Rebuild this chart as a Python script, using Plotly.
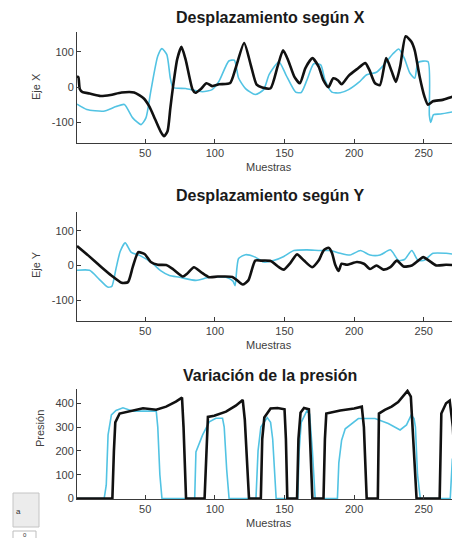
import plotly.graph_objects as go

# ---------------- data ----------------
titles = ["Desplazamiento según X", "Desplazamiento según Y", "Variación de la presión"]
ylabels = ["Eje X", "Eje Y", "Presión"]
xlabel = "Muestras"

x_ticks = [50, 100, 150, 200, 250]
xy_ticks = [-100, 0, 100]
xy_ticktext = ["-100", "0", "100"]
p_ticks = [0, 100, 200, 300, 400]
p_ticktext = ["0", "100", "200", "300", "400"]

# Panel 1: displacement along X
dx_black_s = [1, 2, 3, 5, 10, 18, 25, 33, 42, 49, 53, 57, 61, 63.5, 66, 68, 70, 73, 76, 79, 84, 86,
              90, 94, 98, 103, 111, 115, 121, 125.7, 130, 134, 140, 145, 149, 153, 157, 161, 165,
              170, 174.5, 178, 181.5, 185, 188.5, 191, 196, 202, 208, 211, 215, 218.5, 223, 227,
              230, 233, 237, 241, 243.5, 247, 250.5, 253, 256.5, 263.5, 270.5, 276]
dx_black_v = [30, 28, -5, -14, -18, -25, -22, -15, -15, -32, -55, -90, -125, -139, -125, -60, 3, 80,
              114, 78, -7, -16, -5, 11, 3, 8, 12, 55, 125, 64, 7, -1, -3, 58, 104, 72, 30, 11, 54,
              82, 58, 19, 0, 25, 19, 8, 32, 51, 68, 48, 11, 6, 82, 44, 15, 58, 144, 129, 104, 30,
              -27, -50, -40, -36, -27, -22]
dx_cyan_s = [1, 8, 20, 29, 35, 41, 47, 50.5, 54, 59, 62, 65.5, 68, 70, 79, 91, 98, 103, 110, 114,
             117, 122, 129, 135, 139, 146, 151, 158, 162, 166, 171, 176, 179, 184, 190, 196, 203.5,
             209, 216, 222, 228, 232, 236, 240, 243.5, 246, 253, 254, 255, 257, 262, 276]
dx_cyan_v = [-48, -63, -68, -55, -49, -87, -106, -87, -11, 88, 109, 92, 26, -1, -4, -13, -7, 17, 74,
             76, 26, -4, -21, -7, 36, 72, 35, -14, -15, 19, 66, 63, 21, -14, -16, -7, 14, 35, 42,
             66, 95, 108, 82, 40, 25, 70, 72, -80, -100, -78, -76, -66]

# Panel 2: displacement along Y
dy_black_s = [1, 9, 18.6, 25.7, 33, 37.6, 41, 45, 49.5, 54, 59, 65, 69.7, 77, 80, 85, 90, 96, 102,
              112.6, 116, 120, 124, 129, 133, 140, 146, 149.5, 154, 159, 164, 169.8, 174.5, 178,
              181.6, 184, 186.4, 188.8, 191, 194.8, 202, 207, 211.4, 216, 221, 226, 230.7, 235.5,
              241.4, 246, 249.6, 254, 259, 266, 276]
dy_black_v = [56, 29, -5, -29, -50, -48, -5, 38, 33, 10, 2, 1, -10, -32, -24, -5, -19, -34, -32,
              -33, -43, -55, -43, 14, 14, 13, -5, -12, 6, 32, 14, -5, 14, 43, 51, 37, 2, -16, 5, 2,
              10, 5, -10, 0, -12, -5, 14, -3, 0, 14, 24, 13, 0, 2, 0]
dy_cyan_s = [1, 10, 17, 23, 26, 29, 32, 35.6, 40, 46, 55.5, 61, 67.4, 74.5, 86.4, 96, 108, 113,
             114.5, 117, 122, 129, 135, 142, 149.5, 156.7, 166, 175.7, 183, 190, 197, 204.5, 211.4,
             218.6, 226, 232, 236.4, 241.4, 246, 250.7, 256.7, 266, 276]
dy_cyan_v = [-14, -14, -40, -62, -60, -9, 40, 65, 38, 29, 5, -15, -29, -34, -43, -34, -34, -45, -58,
             20, 31, 24, 10, 14, 26, 43, 45, 43, 43, 35, 30, 43, 30, 30, 45, 14, 18, 43, 14, 16,
             35, 35, 30]

# Panel 3: pressure
p_black_s = [1, 26.4, 27.5, 28.5, 31.6, 38.8, 48.4, 57.9, 65, 72, 76.4, 77.5, 79.3, 92.6, 93.8, 95,
             99.5, 108, 115, 120, 121.5, 124.5, 133, 134, 135.5, 140, 145, 150, 151, 152, 159, 160,
             161.5, 164, 167.5, 168.5, 170, 178, 179, 180, 190, 200, 205.5, 207, 209, 217, 217.8,
             222, 226.9, 231.6, 236.4, 238.3, 240.7, 242.5, 244.8, 261.4, 262, 262.6, 266, 268.6,
             270.9, 273.4, 276]
p_black_v = [0, 0, 200, 320, 357, 367, 379, 373, 386, 407, 424, 300, 0, 0, 200, 343, 348, 365, 390,
             414, 330, 0, 0, 250, 340, 378, 380, 375, 250, 0, 0, 250, 360, 380, 375, 250, 0, 0, 250,
             357, 370, 378, 386, 300, 0, 0, 357, 372, 386, 405, 442, 452, 428, 250, 0, 0, 250, 357,
             400, 411, 300, 0, 0]
p_cyan_s = [1, 20.5, 22, 23.3, 25.7, 29, 34, 41.2, 50, 57.9, 59, 60.5, 62, 85.5, 86.4, 91.2, 96,
            100.7, 105.5, 106.7, 108.5, 110.2, 129.5, 131, 133, 137.6, 140, 141.5, 144, 159.5,
            160.5, 162, 166.2, 168, 170, 172, 188, 189, 191, 193.6, 203, 215, 224.5, 233, 237.6,
            241, 243, 244, 245.5, 247.5, 269, 270.5, 271.5, 273, 276]
p_cyan_v = [0, 0, 56, 267, 351, 370, 381, 367, 367, 367, 300, 100, 0, 0, 196, 267, 322, 337, 337,
            300, 120, 0, 0, 200, 300, 340, 320, 250, 0, 0, 200, 320, 370, 355, 200, 0, 0, 150, 245,
            293, 336, 336, 315, 288, 309, 351, 336, 300, 100, 0, 0, 165, 165, 0, 0]

# ---------------- styling ----------------
OFF = 8                      # default body margin of the written html page
W, H = 452, 530              # keeps the page from overflowing (no scrollbar)
FONT = "Liberation Sans, Arial, Helvetica, sans-serif"
BLACK = "#111111"
CYAN = "#52c3e3"
AXIS = "#3a3a3a"
TXT = "#404040"


def px(x):
    return (x - OFF) / W


def py(y):
    return 1 - (y - OFF) / H


# plot-area boxes in page pixels (top, bottom)
x_left = 77
boxes = [(32, 143), (212, 321), (389, 499)]
yranges = [[-158, 156], [-160, 154], [-2, 460]]
title_y = [18, 196, 375]
xlab_y = [167, 345, 523]
ylab_x = [36, 36, 40]
ylab_y = [87, 265, 429]

fig = go.Figure()

series = [
    (dx_cyan_s, dx_cyan_v, dx_black_s, dx_black_v, "spline"),
    (dy_cyan_s, dy_cyan_v, dy_black_s, dy_black_v, "spline"),
    (p_cyan_s, p_cyan_v, p_black_s, p_black_v, "linear"),
]

for i, (cs, cv, bs, bv, shape) in enumerate(series):
    xa = "x" if i == 0 else f"x{i+1}"
    ya = "y" if i == 0 else f"y{i+1}"
    fig.add_trace(go.Scatter(x=cs, y=cv, mode="lines", xaxis=xa, yaxis=ya,
                             line=dict(color=CYAN, width=1.6, shape=shape, smoothing=0.6),
                             showlegend=False, hoverinfo="skip"))
    fig.add_trace(go.Scatter(x=bs, y=bv, mode="lines", xaxis=xa, yaxis=ya,
                             line=dict(color=BLACK, width=2.6, shape=shape, smoothing=0.6),
                             showlegend=False, hoverinfo="skip"))

layout = dict(
    width=W, height=H, margin=dict(l=0, r=0, t=0, b=0, autoexpand=False),
    paper_bgcolor="white", plot_bgcolor="white",
    font=dict(family=FONT, color=TXT, size=11),
    showlegend=False,
)

annotations = []
for i, (top, bot) in enumerate(boxes):
    sfx = "" if i == 0 else str(i + 1)
    layout["xaxis" + sfx] = dict(
        domain=[px(x_left), 1.0], range=[1, 276], tickvals=x_ticks,
        ticks="inside", ticklen=4, tickcolor=AXIS, showline=True, linecolor=AXIS, linewidth=1,
        showgrid=False, zeroline=False, tickfont=dict(size=11, color=TXT),
        anchor="y" + sfx,
    )
    if i < 2:
        yt, ytt = xy_ticks, xy_ticktext
    else:
        yt, ytt = p_ticks, p_ticktext
    layout["yaxis" + sfx] = dict(
        domain=[py(bot), py(top)], range=yranges[i], tickvals=yt, ticktext=ytt,
        ticks="inside", ticklen=4, tickcolor=AXIS, showline=True, linecolor=AXIS, linewidth=1,
        showgrid=False, zeroline=False, tickfont=dict(size=11, color=TXT),
        anchor="x" + sfx,
    )
    annotations.append(dict(text=f"<b>{titles[i]}</b>", xref="paper", yref="paper",
                            x=px(270), y=py(title_y[i]), xanchor="center",
                            yanchor="middle", showarrow=False,
                            font=dict(size=16, color="#1a1a1a", family=FONT)))
    annotations.append(dict(text=xlabel, xref="paper", yref="paper",
                            x=px(269), y=py(xlab_y[i]), xanchor="center",
                            yanchor="middle", showarrow=False, font=dict(size=11, color=TXT)))
    annotations.append(dict(text=ylabels[i], xref="paper", yref="paper",
                            x=px(ylab_x[i]), y=py(ylab_y[i]),
                            xanchor="center", yanchor="middle", textangle=-90, showarrow=False,
                            font=dict(size=11, color=TXT)))

# small UI widgets at bottom-left
annotations.append(dict(text="a", xref="paper", yref="paper", x=px(14), y=py(511),
                        xanchor="left", yanchor="middle", showarrow=False,
                        font=dict(size=8, color="#333333")))
annotations.append(dict(text="0", xref="paper", yref="paper", x=px(25), y=py(535),
                        xanchor="center", yanchor="middle", showarrow=False,
                        font=dict(size=6, color="#333333")))
layout["annotations"] = annotations
layout["shapes"] = [
    dict(type="rect", xref="paper", yref="paper", x0=px(13), x1=px(39), y0=py(527),
         y1=py(493), fillcolor="#ececec", line=dict(color="#c4c4c4", width=1), layer="below"),
    dict(type="rect", xref="paper", yref="paper", x0=px(13), x1=px(36), y0=py(545),
         y1=py(531), fillcolor="#ffffff", line=dict(color="#bdbdbd", width=1), layer="below"),
]

fig.update_layout(**layout)
fig.write_html("out.html")
